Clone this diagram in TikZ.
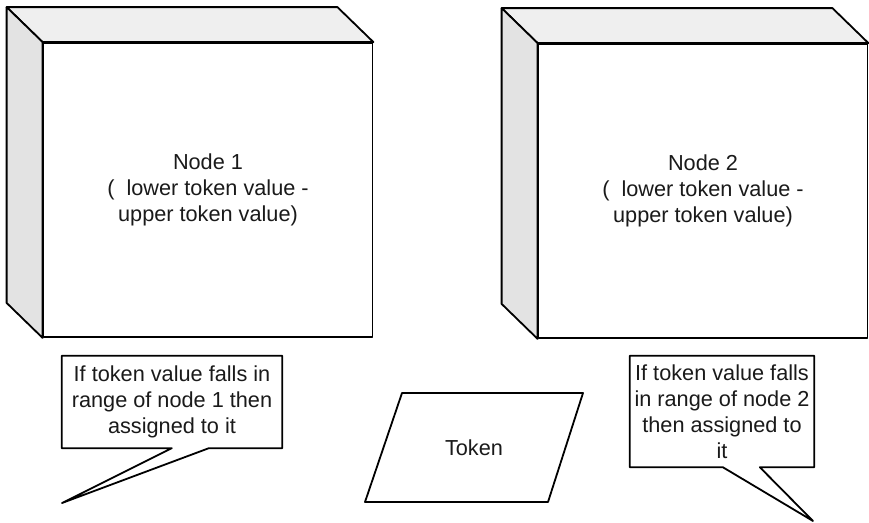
\documentclass[tikz,border=0pt]{standalone}
\usepackage{fontspec}
\setmainfont{Liberation Sans}
\usetikzlibrary{calc}
\definecolor{topface}{HTML}{EFEFEF}
\definecolor{sideface}{HTML}{E3E3E3}
\definecolor{ink}{HTML}{1A1A1A}
\tikzset{
  outline/.style={draw=black, line width=1.8pt, line join=round},
  txt/.style={font=\fontsize{21.7}{26}\selectfont, align=center, text=ink, inner sep=0pt},
  frontface/.style={txt, outline, fill=white, minimum width=329pt, minimum height=294pt},
  topf/.style={outline, fill=topface},
  sidef/.style={outline, fill=sideface},
  callout/.style={outline, fill=white},
  para/.style={outline, fill=white}
}
\begin{document}
\begin{tikzpicture}[x=1pt,y=-1pt]
\useasboundingbox (0,0) rectangle (869,522);

% Node 1
\node[frontface] (n1) at (208,190) {Node 1\\(\ \ lower token value -\\upper token value)};
\draw[topf] (n1.north west) -- ($(n1.north west)+(-36,-35)$) -- ($(n1.north east)+(-36,-35)$) -- (n1.north east) -- cycle;
\draw[sidef] (n1.north west) -- ($(n1.north west)+(-36,-35)$) -- ($(n1.south west)+(-36,-35)$) -- (n1.south west) -- cycle;

% Node 2
\node[frontface] (n2) at (703,191) {Node 2\\(\ \ lower token value -\\upper token value)};
\draw[topf] (n2.north west) -- ($(n2.north west)+(-36,-35)$) -- ($(n2.north east)+(-36,-35)$) -- (n2.north east) -- cycle;
\draw[sidef] (n2.north west) -- ($(n2.north west)+(-36,-35)$) -- ($(n2.south west)+(-36,-35)$) -- (n2.south west) -- cycle;

% Callout 1
\node[txt, minimum width=220pt, minimum height=92pt] (c1) at (172,402) {};
\coordinate (tip1) at (62,503);
\draw[callout] (c1.north west) -- (c1.north east) -- (c1.south east) -- ($(c1.south west)+(147,0)$) -- (tip1) -- ($(c1.south west)+(110,0)$) -- (c1.south west) -- cycle;
\node[txt] (c1t) at (c1.center) {If token value falls in\\range of node 1 then\\assigned to it};

% Callout 2
\node[txt, minimum width=184pt, minimum height=111pt] (c2) at (722,411.5) {};
\coordinate (tip2) at (813,521);
\draw[callout] (c2.north west) -- (c2.north east) -- (c2.south east) -- ($(c2.south west)+(130,0)$) -- (tip2) -- ($(c2.south west)+(93,0)$) -- (c2.south west) -- cycle;
\node[txt] (c2t) at (c2.center) {If token value falls\\in range of node 2\\then assigned to\\it};

% Token
\node[txt] (tok) at (474,447.5) {};
\draw[para] ($(tok)+(-72,-54.5)$) -- ($(tok)+(109,-54.5)$) -- ($(tok)+(74,54.5)$) -- ($(tok)+(-109,54.5)$) -- cycle;
\node[txt] (tokt) at (tok) {Token};
\end{tikzpicture}
\end{document}
